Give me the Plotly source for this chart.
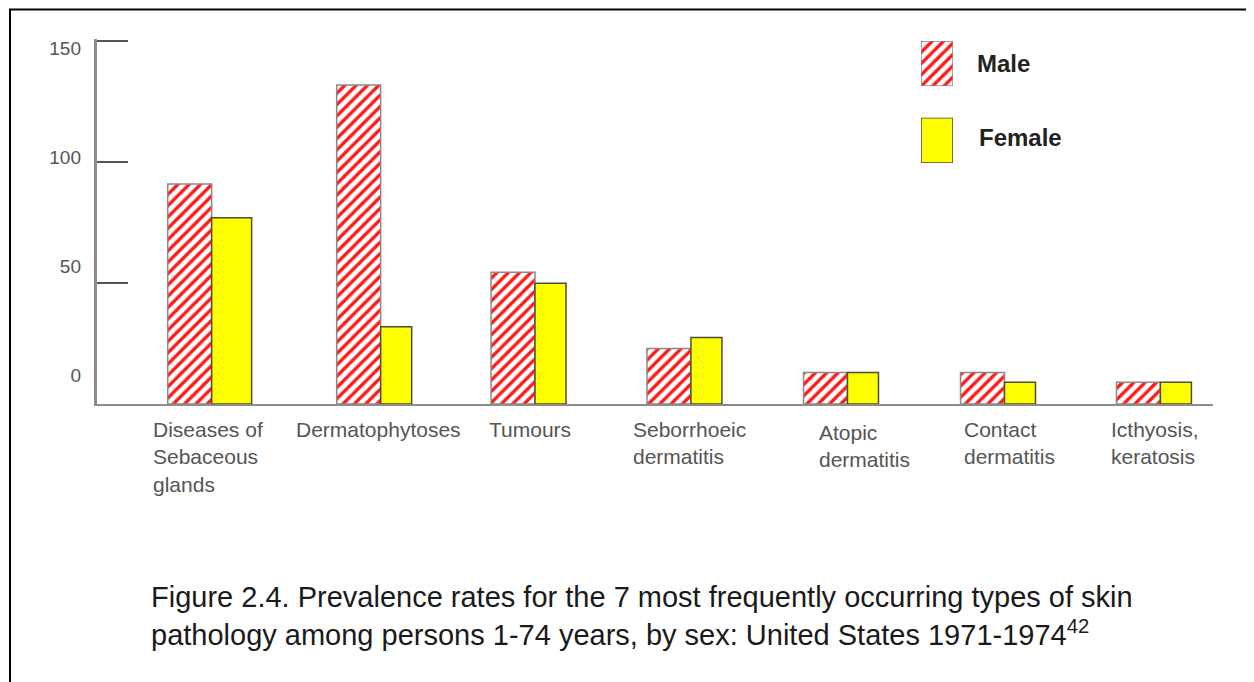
import plotly.graph_objects as go

# ---------------- data ----------------
categories = ["Diseases of<br>Sebaceous<br>glands", "Dermatophytoses", "Tumours",
              "Seborrhoeic<br>dermatitis", "Atopic<br>dermatitis",
              "Contact<br>dermatitis", "Icthyosis,<br>keratosis"]
male = [91, 132, 54.5, 23, 13, 13, 9]
female = [77, 32, 50, 27.5, 13, 9, 9]
series_names = ["Male", "Female"]
y_tick_values = [0, 50, 100, 150]
y_tick_labels = ["0", "50", "100", "150"]
caption_line1 = "Figure 2.4. Prevalence rates for the 7 most frequently occurring types of skin"
caption_line2 = "pathology among persons 1-74 years, by sex: United States 1971-1974"
footnote = "42"

# ---------------- style ----------------
PAGE = 8                                  # browser body margin
W, H = 1254 - PAGE, 682 - PAGE
Y_TOP = 151
L, R, B = 97, 1213, 404                   # plot area in screen pixels
T = B - Y_TOP * (363 / 150)
def px_x(p): return (p - L) / (R - L)
def px_y(p): return (B - p) / (B - T)

male_w = 0.279
group_nudge = [-0.039, 0.034, 0.014, 0.004, -0.002, -0.005, -0.015]
male_width = [male_w] * 7
female_width = [0.254, 0.197, 0.197, 0.197, 0.197, 0.197, 0.197]
male_offset = [-male_w + g for g in group_nudge]
female_offset = [g for g in group_nudge]
label_shift = [-10, 3, -3, -1, 17, 4, -8]
label_yshift = [0, 0, 0, 0, -3, 0, 0]
gray_text = "#555555"
font_family = "Liberation Sans, Arial, sans-serif"

male_marker = dict(color="white",
                   pattern=dict(shape="/", fgcolor="#ff1a1a", bgcolor="white",
                                size=8, solidity=0.42, fillmode="replace"),
                   line=dict(color="#8a8a8a", width=1.5))
female_marker = dict(color="#ffff00", line=dict(color="#4d4d3a", width=1.5))

xi = list(range(len(categories)))

fig = go.Figure()
fig.add_trace(go.Bar(x=xi, y=male, name=series_names[0], width=male_width,
                     offset=male_offset, marker=male_marker, showlegend=False))
fig.add_trace(go.Bar(x=xi, y=female, name=series_names[1], width=female_width,
                     offset=female_offset, marker=female_marker, showlegend=False))

# legend swatches drawn as bars in their own small axes
fig.add_trace(go.Bar(x=[0], y=[1], width=[1], marker=male_marker, xaxis="x3",
                     yaxis="y3", showlegend=False, hoverinfo="skip"))
fig.add_trace(go.Bar(x=[0], y=[1], width=[1], marker=female_marker, xaxis="x4",
                     yaxis="y4", showlegend=False, hoverinfo="skip"))
# invisible trace to carry the label axis
fig.add_trace(go.Scatter(x=[0], y=[0], yaxis="y2", mode="markers",
                         marker=dict(opacity=0), showlegend=False, hoverinfo="skip"))

# label axis: 0 drawn at 375.3 px, 150 at 47.7 px (as in the source figure)
lab_scale = 2.184
lab_zero = 375.3
lab_range = [-(B - lab_zero) / lab_scale, (lab_zero - T) / lab_scale]

fig.update_layout(
    width=W, height=H,
    margin=dict(l=L - PAGE, r=W - (R - PAGE), t=T - PAGE, b=H - (B - PAGE), pad=0),
    paper_bgcolor="white", plot_bgcolor="white",
    barmode="overlay",
    font=dict(family=font_family, color=gray_text),
    xaxis=dict(range=[-0.767, 6.319], showline=True, linecolor="#8c8c8c",
               linewidth=2, showticklabels=False, ticks="", showgrid=False,
               zeroline=False, fixedrange=True),
    yaxis=dict(range=[0, Y_TOP], showline=True, linecolor="#8c8c8c", linewidth=3,
               ticks="inside", ticklen=31, tickwidth=1.5, tickcolor="#555555",
               tickvals=y_tick_values[1:], showticklabels=False, showgrid=False,
               zeroline=False),
    yaxis2=dict(overlaying="y", side="left", range=lab_range,
                tickvals=y_tick_values, ticktext=y_tick_labels, ticks="",
                showline=False, showgrid=False, zeroline=False,
                ticklabelstandoff=15,
                tickfont=dict(size=19, color=gray_text, family=font_family)),
    xaxis3=dict(domain=[px_x(921), px_x(953)], range=[-0.5, 0.5], visible=False,
                anchor="y3"),
    yaxis3=dict(domain=[px_y(85.7), px_y(40.7)], range=[0, 1], visible=False,
                anchor="x3"),
    xaxis4=dict(domain=[px_x(921), px_x(953)], range=[-0.5, 0.5], visible=False,
                anchor="y4"),
    yaxis4=dict(domain=[px_y(162.7), px_y(117.3)], range=[0, 1], visible=False,
                anchor="x4"),
)

ann = []
for i, c in enumerate(categories):
    ann.append(dict(x=i, xref="x", y=px_y(416), yref="paper", text=c,
                    showarrow=False, xanchor="center", yanchor="top", align="left",
                    xshift=label_shift[i], yshift=label_yshift[i],
                    font=dict(size=21, color=gray_text, family=font_family)))
ann.append(dict(x=px_x(975), xref="paper", y=px_y(62.7), yref="paper",
                text="<b>" + series_names[0] + "</b>", showarrow=False,
                xanchor="left", yanchor="middle",
                font=dict(size=24, color="#222222", family=font_family)))
ann.append(dict(x=px_x(977), xref="paper", y=px_y(137.3), yref="paper",
                text="<b>" + series_names[1] + "</b>", showarrow=False,
                xanchor="left", yanchor="middle",
                font=dict(size=24, color="#222222", family=font_family)))
ann.append(dict(x=px_x(149), xref="paper", y=px_y(616), yref="paper",
                text=caption_line1 + "<br>" + caption_line2 + "<sup>" + footnote + "</sup>",
                showarrow=False, xanchor="left", yanchor="middle", align="left",
                font=dict(size=29, color="#1a1a1a", family=font_family)))
fig.update_layout(annotations=ann)

fig.add_shape(type="rect", xref="paper", yref="paper",
              x0=px_x(10), x1=px_x(1248), y0=px_y(720), y1=px_y(9),
              line=dict(color="black", width=2), fillcolor="rgba(0,0,0,0)", layer="above")

fig.write_html("out.html")
